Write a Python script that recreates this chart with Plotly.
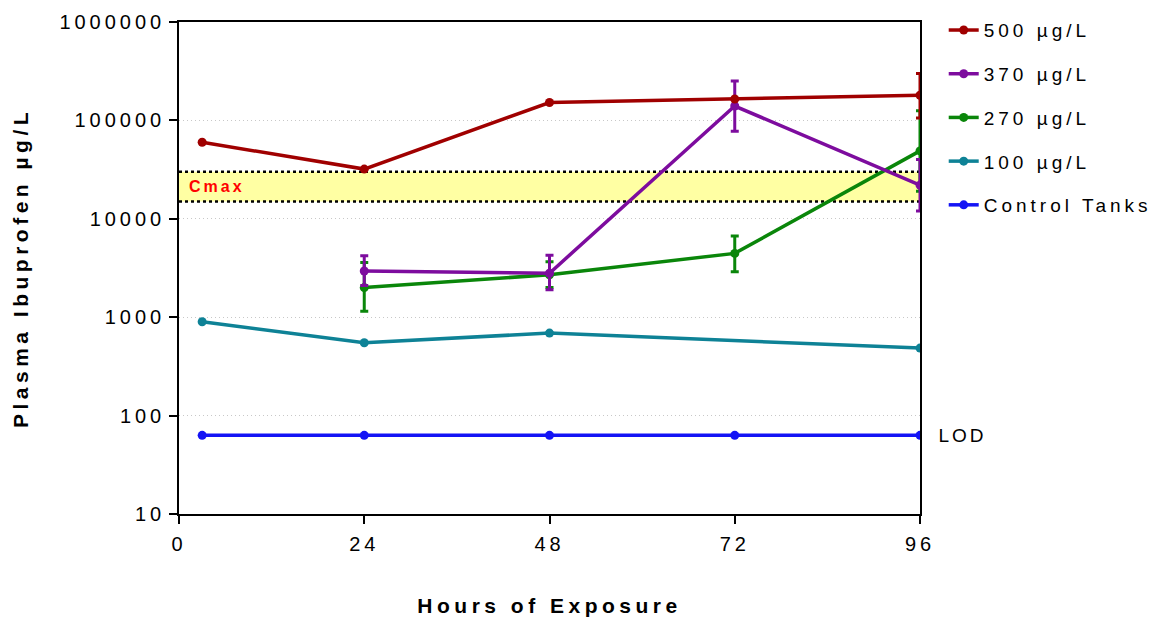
import plotly.graph_objects as go
import math

# Sampling times (hours of exposure)
hours_all = [3, 24, 48, 72, 96]
hours_from_24 = [24, 48, 72, 96]
hours_100 = [3, 24, 48, 96]

# Plasma ibuprofen (µg/L) per exposure concentration
conc_500 = [60000, 32000, 152000, 165000, 180000]
conc_500_up = [0, 0, 0, 0, 120000]
conc_500_dn = [0, 0, 0, 0, 74000]

conc_370 = [2950, 2800, 140000, 22000]
conc_370_up = [1250, 1450, 111000, 18000]
conc_370_dn = [850, 900, 62500, 10000]

conc_270 = [2000, 2700, 4450, 49000]
conc_270_up = [1600, 950, 2250, 76000]
conc_270_dn = [850, 700, 1550, 30000]

conc_100 = [900, 550, 690, 485]

conc_control = [63, 63, 63, 63, 63]

# Cmax reference band (µg/L)
CMAX_LOW = 15000
CMAX_HIGH = 30000
LOD_VALUE = 63

y_tickvals = [10, 100, 1000, 10000, 100000, 1000000]
y_ticktext = ["10", "100", "1000", "10000", "100000", "1000000"]
x_tickvals = [0, 24, 48, 72, 96]
x_ticktext = ["0", "24", "48", "72", "96"]

FONT = "Arial, 'Liberation Sans', sans-serif"

series = [
    # (name, x, y, up, down, color, legend rank)
    ("Control Tanks", hours_all, conc_control, None, None, "#1414F5", 5),
    ("100 µg/L", hours_100, conc_100, None, None, "#0E8296", 4),
    ("270 µg/L", hours_from_24, conc_270, conc_270_up, conc_270_dn, "#0A860A", 3),
    ("370 µg/L", hours_from_24, conc_370, conc_370_up, conc_370_dn, "#7D0C9E", 2),
    ("500 µg/L", hours_all, conc_500, conc_500_up, conc_500_dn, "#A00000", 1),
]

fig = go.Figure()
for name, xs, ys, up, dn, color, rank in series:
    err = None
    if up is not None:
        err = dict(type="data", symmetric=False, array=up, arrayminus=dn,
                   color=color, thickness=3, width=4, visible=True)
    fig.add_trace(go.Scatter(
        x=xs, y=ys, name=name, mode="lines+markers",
        line=dict(color=color, width=3.5),
        marker=dict(color=color, size=9),
        error_y=err, legendrank=rank, legendgroup=name,
    ))

# Cmax band with dotted edges
fig.add_shape(type="rect", xref="x", yref="y", x0=0, x1=96,
              y0=CMAX_LOW, y1=CMAX_HIGH,
              fillcolor="#FFFFA3", line=dict(width=0), layer="below")
for v in (CMAX_LOW, CMAX_HIGH):
    fig.add_shape(type="line", xref="x", yref="y", x0=0, x1=96,
                  y0=v, y1=v,
                  line=dict(color="black", width=2.5, dash="dot"), layer="below")

fig.add_annotation(x=1.8, y=math.log10(math.sqrt(CMAX_LOW * CMAX_HIGH)),
                   xref="x", yref="y", text="<b>Cmax</b>", showarrow=False,
                   xanchor="left", yanchor="middle",
                   font=dict(family=FONT, size=16, color="#FF0000"))
fig.add_annotation(x=1.028, y=math.log10(LOD_VALUE), xref="paper", yref="y",
                   text="LOD", showarrow=False, xanchor="left", yanchor="middle",
                   font=dict(family=FONT, size=19, color="black"))

fig.update_layout(
    width=1154, height=619,
    margin=dict(l=179, r=234, t=22, b=105, autoexpand=False),
    paper_bgcolor="white", plot_bgcolor="white",
    font=dict(family=FONT, color="black"),
    legend=dict(x=1.032, xanchor="left", y=1.022, yanchor="top",
                font=dict(family=FONT, size=19, color="black"),
                tracegroupgap=16, bgcolor="rgba(0,0,0,0)"),
    showlegend=True,
)

fig.update_xaxes(
    range=[0, 96], tickvals=x_tickvals, ticktext=x_ticktext,
    showgrid=False, zeroline=False, automargin=False,
    showline=True, linecolor="black", linewidth=1.5, mirror=True,
    ticks="outside", ticklen=8, tickwidth=1.5, tickcolor="black",
    ticklabelstandoff=3,
    tickfont=dict(family=FONT, size=20, color="black"),
    title=dict(text="<b>Hours of Exposure</b>", standoff=45,
               font=dict(family=FONT, size=21, color="black")),
)
fig.update_yaxes(
    type="log", range=[1, 6], tickvals=y_tickvals, ticktext=y_ticktext,
    showgrid=True, gridcolor="#c8c8c8", gridwidth=1, griddash="1px,3px",
    zeroline=False, automargin=False,
    showline=True, linecolor="black", linewidth=1.5, mirror=True,
    ticks="outside", ticklen=8, tickwidth=1.5, tickcolor="black",
    tickfont=dict(family=FONT, size=20, color="black"),
    title=dict(text="<b>Plasma Ibuprofen µg/L</b>", standoff=53,
               font=dict(family=FONT, size=21, color="black")),
)

# Wide letter spacing for all chart text; keep the legend unclipped
css = (".xtick text,.ytick text{letter-spacing:4px}"
       ".g-xtitle text,.g-ytitle text{letter-spacing:4.5px}"
       ".legendtext{letter-spacing:4px}"
       ".annotation-text{letter-spacing:3px}"
       ".legend .scrollbox{clip-path:none!important}")
post = ("var s=document.createElement('style');s.textContent=" + repr(css) +
        ";document.head.appendChild(s);")

fig.write_html("out.html", post_script=post)
